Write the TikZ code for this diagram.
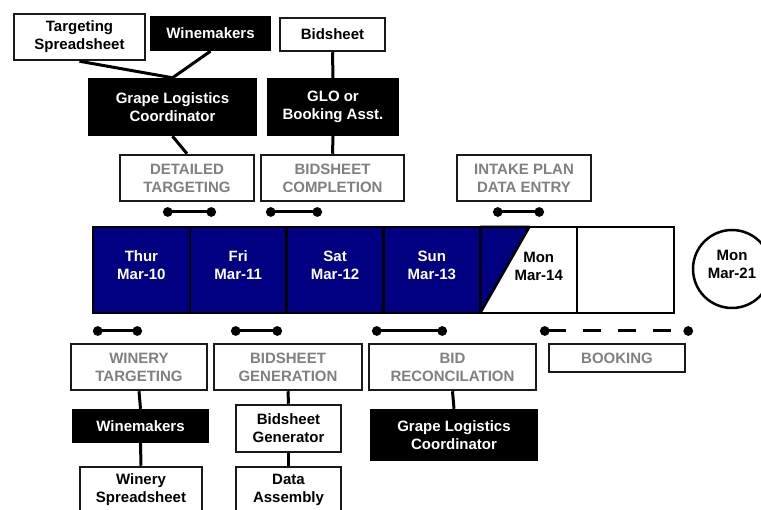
\documentclass[tikz,border=0pt]{standalone}
\usepackage{fontspec}
\setmainfont{Liberation Sans}
\usetikzlibrary{arrows.meta}

\begin{document}
\begin{tikzpicture}[x=1pt,y=-1pt,font=\fontsize{15}{18}\selectfont\bfseries,
  box/.style={draw=black!90,line width=2.5pt,fill=white,align=center,inner sep=0pt},
  doc/.style={box,text=black},
  task/.style={box,text=gray},
  role/.style={fill=black,text=white,align=center,inner sep=0pt},
  day/.style={draw=black,line width=2.5pt,align=center,inner sep=0pt,outer sep=0pt,
    minimum width=96.83,minimum height=86,text depth=10pt},
  link/.style={line width=3pt},
  bar/.style={line width=3pt,{Circle[length=9.5pt]}-{Circle[length=9.5pt]}}]
\definecolor{navy}{RGB}{0,0,128}
\clip (0,0) rectangle (761,510);
% top: who does it, with what
\node[doc,minimum width=131,minimum height=46] (tspread) at (79.5,37) {Targeting\\Spreadsheet};
\node[role,minimum width=121,minimum height=35] (wmtop) at (210.5,33.5) {Winemakers};
\node[doc,minimum width=105,minimum height=33] (bsheet) at (332.5,34.5) {Bidsheet};
\node[role,minimum width=169,minimum height=58] (glctop) at (172.5,107) {Grape Logistics\\Coordinator};
\node[role,minimum width=132,minimum height=58] (glo) at (333,107) {GLO or\\Booking Asst.};
\node[task,minimum width=134,minimum height=46] (dettarg) at (187,178) {DETAILED\\TARGETING};
\node[task,minimum width=143,minimum height=46] (bidcomp) at (332.5,178) {BIDSHEET\\COMPLETION};
\node[task,minimum width=134,minimum height=46] (intake) at (524,178) {INTAKE PLAN\\DATA ENTRY};
\draw[link] (tspread.south) -- (glctop.north);
\draw[link] (wmtop.south) -- (glctop.north);
\draw[link] (glctop.south) -- (dettarg.north);
\draw[link] (bsheet.south) -- (glo.north);
\draw[link] (glo.south) -- (bidcomp.north);
% timeline
\foreach \d/\t [count=\i] in {Thur/Mar-10,Fri/Mar-11,Sat/Mar-12,Sun/Mar-13}
  \node[day,fill=navy,text=white] (cell\i) at ({93+96.83*(\i-0.5)},270) {\d\\\t};
\node[day,fill=white] (cell5) at ({93+96.83*4.5},270) {};
\node[day,fill=white] (cell6) at ({93+96.83*5.5},270) {};
\filldraw[fill=navy,draw=black,line width=2.5pt,line join=round] (cell5.north west) -- ++(49,0) -- (cell5.south west) -- cycle;
\node[align=center] (mon14) at ([xshift=10pt,yshift=4pt]cell5.center) {Mon\\Mar-14};
\node[draw,circle,line width=2.5pt,minimum size=78,align=center,text depth=10pt] (mon21) at (732,269) {Mon\\Mar-21};
% bars
\foreach \a/\b/\y [count=\i] in {163/216/212,266/322/212,493/544/212,93/142/331,231/282/331,372/447/331} {
  \coordinate (s\i) at (\a,\y);
  \coordinate (e\i) at (\b,\y);
  \draw[bar] (s\i) -- (e\i);
}
\coordinate (bk1) at (540,331);
\coordinate (bk2) at (693,331);
\draw[bar,dash pattern=on 18pt off 17pt] (bk1) -- (bk2);
% bottom
\node[task,minimum width=136,minimum height=46] (wintarg) at (139,367) {WINERY\\TARGETING};
\node[task,minimum width=148,minimum height=46] (bidgen) at (288,367) {BIDSHEET\\GENERATION};
\node[task,minimum width=167,minimum height=46] (bidrec) at (452.5,367) {BID\\RECONCILATION};
\node[task,minimum width=136,minimum height=28] (booking) at (617,358) {BOOKING};
\node[role,minimum width=137,minimum height=34] (wmbot) at (140.5,426) {Winemakers};
\node[doc,minimum width=122,minimum height=46] (wspread) at (141,490) {Winery\\Spreadsheet};
\node[doc,minimum width=105,minimum height=47] (bsgen) at (288.5,428.5) {Bidsheet\\Generator};
\node[doc,minimum width=105,minimum height=46] (dasm) at (288.5,490) {Data\\Assembly};
\node[role,minimum width=168,minimum height=52] (glcbot) at (454,435) {Grape Logistics\\Coordinator};
\draw[link] (wintarg.south) -- (wmbot.north);
\draw[link] (wmbot.south) -- (wspread.north);
\draw[link] (bidgen.south) -- (bsgen.north);
\draw[link] (bsgen.south) -- (dasm.north);
\draw[link] (bidrec.south) -- (glcbot.north);
\end{tikzpicture}
\end{document}
